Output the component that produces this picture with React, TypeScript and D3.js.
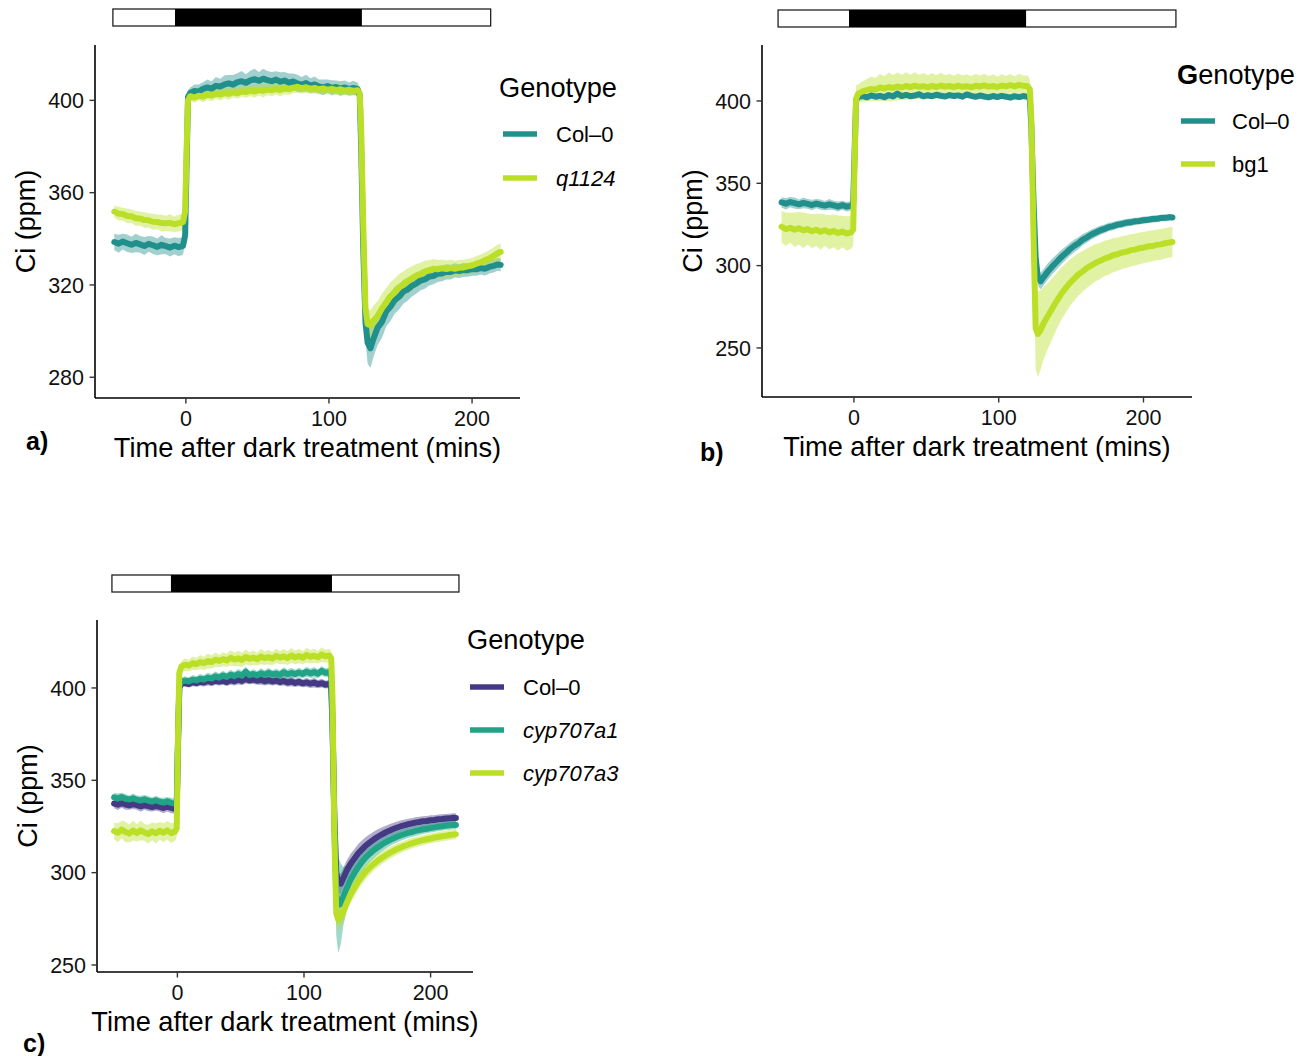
import React from "react";
import * as d3 from "d3";

// ---------- data ----------
const TIME = [
  -50, -47, -44, -41, -38, -35, -32, -29, -26, -23, -20, -17, -14, -11, -8, -5, -2,
  -0.5, 0.5, 1.5,
  3, 6, 9, 12, 15, 18, 21, 24, 27, 30,
  33, 36, 39, 42, 45, 48, 51, 54, 57, 60,
  63, 66, 69, 72, 75, 78, 81, 84, 87, 90,
  93, 96, 99, 102, 105, 108, 111, 114, 117, 120,
  121.5, 122.5, 124, 125.5, 127, 129, 131,
  134, 137, 140, 143, 146, 149, 152, 155, 158, 161,
  164, 167, 170, 173, 176, 179, 182, 185, 188, 191,
  194, 197, 200, 203, 206, 209, 212, 215, 218, 220,
];

const X_TICKS = [0, 100, 200];
const Y_TICKS_A = [280, 320, 360, 400];
const Y_TICKS_B = [250, 300, 350, 400];
const Y_TICKS_C = [250, 300, 350, 400];

// light/dark bars: [start, darkStart, darkEnd, end] (mins)
const BAR_A = [-51, -7.6, 123, 213];
const BAR_B = [-52.4, -3.4, 118.9, 222.4];
const BAR_C = [-51.7, -5.1, 122.1, 222.4];

const GENO_A = ["Col\u20130", "q1124"];
const GENO_B = ["Col\u20130", "bg1"];
const GENO_C = ["Col\u20130", "cyp707a1", "cyp707a3"];

// panel a
const A_COL = [
  338.6, 337.9, 338.8, 338.1, 337.4, 338.2, 337.6, 336.9, 337.8, 337.2, 336.5, 337.4, 336.8, 336.2, 337.0, 336.4, 336.9,
  341.5, 372, 401.5,
  403.2, 404.1, 403.8, 405.0, 405.6, 405.1, 406.3, 406.0, 406.9, 407.4,
  406.8, 407.9, 408.3, 407.6, 408.7, 409.2, 408.5, 409.4, 408.8, 408.3,
  409.0, 408.1, 408.6, 407.7, 408.2, 407.3, 406.8, 407.5, 406.4, 406.9,
  406.0, 405.6, 406.2, 405.4, 405.8, 405.1, 405.6, 404.9, 405.4, 405.0,
  402, 380, 335, 304, 295, 292.5, 296.5,
  301.5, 304.0, 308.5, 310.6, 313.4, 314.9, 317.1, 318.0, 319.6, 320.6,
  321.9, 322.4, 323.6, 323.9, 324.8, 325.0, 325.7, 325.6, 326.3, 326.0,
  326.5, 326.4, 326.9, 326.8, 327.3, 327.0, 327.8, 328.3, 328.9, 328.7,
];
const A_COL_SE = [
  3.6, 3.9, 3.4, 3.8, 3.5, 4.0, 3.6, 3.9, 3.4, 3.8, 3.6, 4.1, 3.5, 3.9, 3.7, 4.0, 3.8,
  3.5, 3.5, 3.0,
  2.4, 2.8, 3.1, 2.9, 3.5, 3.2, 3.8, 3.4, 4.0, 3.6,
  4.2, 3.9, 4.4, 3.7, 4.1, 4.5, 3.8, 4.3, 3.9, 4.0,
  3.6, 4.1, 3.7, 3.9, 3.4, 3.8, 3.3, 3.6, 3.2, 3.5,
  3.0, 3.4, 2.9, 3.3, 2.8, 3.2, 3.0, 2.9, 3.1, 2.8,
  3, 4, 6, 8, 9, 8.5, 8,
  7.5, 7, 6.5, 6.2, 5.8, 5.5, 5.2, 4.9, 4.6, 4.4,
  4.2, 4.0, 3.8, 3.6, 3.5, 3.4, 3.3, 3.2, 3.1, 3.0,
  3.0, 2.9, 2.9, 2.8, 2.8, 2.9, 2.8, 2.9, 2.8, 2.8,
];
const A_Q = [
  351.8, 350.9, 350.7, 349.9, 349.8, 348.9, 348.8, 348.1, 348.0, 347.4, 347.3, 346.8, 346.7, 346.9, 346.3, 346.8, 347.2,
  352, 378, 400.0,
  401.8, 401.2, 402.0, 401.6, 402.4, 402.1, 402.9, 402.5, 403.2, 402.8,
  403.5, 403.1, 403.9, 403.6, 404.2, 403.8, 404.5, 404.1, 404.7, 404.4,
  404.9, 404.5, 405.1, 404.8, 405.4, 405.9, 405.3, 405.7, 405.0, 405.4,
  404.8, 405.2, 404.6, 405.0, 404.4, 404.8, 404.2, 404.6, 404.1, 404.4,
  403, 388, 345, 310, 303, 302.5, 304.5,
  306.5, 309.8, 312.4, 315.1, 316.8, 318.9, 320.2, 321.8, 322.9, 324.1,
  324.8, 325.9, 326.4, 327.0, 326.8, 327.2, 326.9, 327.3, 327.0, 327.4,
  327.6, 328.1, 328.4, 329.2, 329.8, 330.7, 331.5, 332.6, 333.8, 334.3,
];
const A_Q_SE = [
  2.6, 3.0, 2.8, 3.2, 2.9, 3.3, 3.0, 3.4, 3.1, 3.5, 3.2, 3.6, 3.3, 3.7, 3.4, 3.6, 3.5,
  3, 3, 2.5,
  1.8, 2.2, 2.0, 2.4, 2.1, 2.5, 2.2, 2.6, 2.3, 2.5,
  2.1, 2.4, 2.2, 2.6, 2.3, 2.7, 2.4, 2.8, 2.5, 2.6,
  2.3, 2.7, 2.4, 2.5, 2.2, 2.6, 2.3, 2.5, 2.1, 2.4,
  2.2, 2.5, 2.0, 2.3, 2.1, 2.4, 2.0, 2.2, 2.1, 2.3,
  2.5, 3.5, 5, 6, 6.5, 6.5, 6.5,
  6.5, 6.4, 6.3, 6.2, 6.0, 5.8, 5.6, 5.4, 5.2, 5.0,
  4.8, 4.6, 4.4, 4.2, 4.0, 3.8, 3.7, 3.6, 3.5, 3.4,
  3.3, 3.3, 3.3, 3.3, 3.4, 3.4, 3.5, 3.6, 3.7, 3.7,
];

// panel b
const B_COL = [
  338.4, 337.6, 338.6, 337.9, 337.2, 338.1, 337.5, 336.8, 337.7, 337.0, 336.4, 337.2, 336.6, 335.9, 336.7, 335.8, 336.3,
  338, 370, 400.5,
  402.4, 403.0, 402.2, 403.4, 402.6, 403.1, 402.3, 403.6, 402.8, 404.5,
  403.0, 403.7, 402.9, 403.3, 404.1, 402.8, 403.5, 402.9, 403.8, 403.2,
  402.7, 403.6, 403.0, 403.4, 402.6, 404.0, 403.1, 402.5, 403.3, 402.7,
  402.2, 403.0, 402.4, 403.1, 402.6, 402.0, 402.9, 402.3, 403.0, 402.5,
  401, 385, 340, 305, 293, 290.5, 293,
  296.5, 299.5, 302.2, 305.0, 307.3, 309.8, 311.9, 313.6, 315.8, 317.2,
  318.9, 320.1, 321.4, 322.3, 323.4, 324.0, 324.9, 325.3, 326.0, 326.3,
  326.9, 327.1, 327.6, 327.8, 328.3, 328.4, 328.9, 329.0, 329.4, 329.3,
];
const B_COL_SE = [
  3.2, 3.5, 3.1, 3.4, 3.0, 3.3, 2.9, 3.2, 2.8, 3.1, 2.9, 3.2, 2.8, 3.0, 2.7, 2.9, 2.8,
  2.8, 2.5, 2,
  1.2, 1.5, 1.3, 1.6, 1.4, 1.7, 1.3, 1.6, 1.4, 1.8,
  1.5, 1.6, 1.3, 1.5, 1.7, 1.4, 1.6, 1.3, 1.5, 1.4,
  1.6, 1.3, 1.5, 1.4, 1.7, 1.5, 1.3, 1.6, 1.4, 1.5,
  1.3, 1.6, 1.4, 1.5, 1.3, 1.5, 1.4, 1.6, 1.3, 1.5,
  2, 3, 4, 4.5, 5, 5, 5,
  5, 4.8, 4.6, 4.4, 4.2, 4.0, 3.8, 3.6, 3.4, 3.2,
  3.0, 2.9, 2.8, 2.7, 2.6, 2.5, 2.4, 2.4, 2.3, 2.3,
  2.2, 2.2, 2.2, 2.1, 2.1, 2.1, 2.0, 2.0, 2.0, 2.0,
];
const B_BG = [
  323.6, 322.1, 323.0, 321.8, 322.7, 321.4, 322.2, 320.9, 321.8, 320.6, 321.5, 320.2, 321.1, 319.8, 320.7, 319.5, 320.2,
  322, 365, 401.5,
  404.5, 405.8, 406.6, 407.3, 407.0, 408.2, 407.6, 408.5, 407.9, 408.8,
  408.2, 409.1, 408.4, 409.3, 408.6, 409.0, 408.3, 409.2, 408.5, 409.4,
  408.7, 409.1, 408.4, 409.3, 408.6, 409.0, 408.3, 409.2, 408.8, 409.5,
  408.7, 409.1, 408.5, 409.4, 408.9, 409.6, 408.8, 409.8, 409.2, 409.0,
  407, 390, 320, 262, 258.5, 261, 265,
  269.5, 274.0, 278.5, 282.6, 286.1, 289.4, 292.0, 294.6, 296.5, 298.6,
  300.1, 301.8, 302.9, 304.3, 305.1, 306.3, 306.9, 307.9, 308.4, 309.3,
  309.7, 310.5, 310.9, 311.6, 311.9, 312.6, 312.9, 313.6, 314.1, 314.3,
];
const B_BG_SE = [
  9.5, 10.2, 9.1, 10.5, 9.8, 10.8, 9.4, 10.3, 9.7, 10.9, 9.5, 10.4, 9.9, 10.7, 9.6, 10.5, 10.0,
  10, 9, 8,
  5.5, 6.2, 6.8, 7.5, 7.0, 8.2, 7.6, 8.8, 7.9, 8.5,
  7.8, 8.3, 7.6, 8.1, 7.4, 8.0, 7.3, 7.8, 7.1, 7.7,
  7.0, 7.5, 6.9, 7.4, 6.8, 7.3, 6.7, 7.2, 6.6, 7.1,
  6.5, 7.0, 6.4, 6.9, 6.3, 6.8, 6.2, 6.7, 6.2, 6.4,
  6, 10, 18, 25, 26, 24, 22,
  20, 18.5, 17, 16, 15, 14.2, 13.5, 12.9, 12.4, 12.0,
  11.6, 11.3, 11.0, 10.8, 10.6, 10.4, 10.2, 10.0, 9.9, 9.8,
  9.7, 9.6, 9.5, 9.5, 9.4, 9.4, 9.3, 9.3, 9.2, 9.2,
];

// panel c
const C_COL = [
  337.4, 336.8, 337.6, 336.9, 336.4, 337.1, 336.5, 335.9, 336.6, 336.0, 335.5, 336.2, 335.6, 335.0, 335.7, 335.1, 334.6,
  336, 370, 400.0,
  402.3, 402.8, 402.1, 403.2, 402.6, 403.5, 402.9, 403.8, 403.1, 404.0,
  403.4, 403.9, 403.2, 404.3, 403.6, 404.5, 403.8, 404.9, 404.1, 404.6,
  403.9, 404.4, 403.6, 404.2, 403.5, 404.0, 403.2, 403.8, 402.9, 403.5,
  402.7, 403.3, 402.5, 403.0, 402.3, 402.9, 402.1, 402.6, 401.8, 402.2,
  400, 380, 330, 300, 294.5, 294, 297,
  301.5, 305.0, 307.8, 310.6, 312.7, 314.8, 316.4, 317.9, 319.3, 320.5,
  321.6, 322.6, 323.5, 324.3, 325.0, 325.6, 326.2, 326.6, 327.1, 327.4,
  327.8, 328.0, 328.4, 328.5, 328.9, 329.0, 329.3, 329.4, 329.7, 329.6,
];
const C_COL_SE = [
  2.6, 2.9, 2.5, 2.8, 2.4, 2.7, 2.5, 2.9, 2.6, 2.8, 2.4, 2.7, 2.5, 2.8, 2.6, 2.9, 2.7,
  2.5, 2.5, 2,
  1.8, 2.1, 1.9, 2.3, 2.0, 2.4, 2.1, 2.5, 2.2, 2.4,
  2.0, 2.3, 2.1, 2.5, 2.2, 2.6, 2.3, 2.5, 2.1, 2.4,
  2.2, 2.6, 2.3, 2.5, 2.1, 2.4, 2.2, 2.5, 2.3, 2.6,
  2.2, 2.4, 2.1, 2.5, 2.3, 2.6, 2.2, 2.4, 2.1, 2.3,
  2.5, 3, 4, 5, 5.5, 5.5, 5.5,
  5.5, 5.4, 5.2, 5.0, 4.8, 4.6, 4.4, 4.2, 4.0, 3.8,
  3.6, 3.5, 3.4, 3.3, 3.2, 3.1, 3.0, 2.9, 2.9, 2.8,
  2.8, 2.7, 2.7, 2.6, 2.6, 2.6, 2.5, 2.5, 2.5, 2.5,
];
const C_A1 = [
  340.8, 340.2, 340.9, 340.0, 339.6, 340.3, 339.5, 339.0, 339.7, 338.9, 338.5, 339.2, 338.4, 337.9, 338.6, 337.8, 337.4,
  338, 372, 401,
  403.4, 404.0, 403.6, 404.5, 404.1, 405.0, 404.6, 405.6, 405.1, 406.3,
  405.6, 406.8, 405.9, 407.2, 406.4, 407.5, 406.7, 408.8, 406.9, 407.6,
  406.8, 407.9, 407.1, 408.2, 407.3, 407.8, 407.0, 408.5, 407.4, 408.1,
  407.5, 408.4, 407.6, 408.8, 407.9, 408.6, 407.7, 409.3, 408.2, 408.6,
  406, 385, 325, 288, 282.5, 283, 287,
  292.0, 296.5, 300.0, 303.2, 306.0, 308.4, 310.3, 312.1, 313.6, 315.0,
  316.3, 317.4, 318.4, 319.3, 320.1, 320.8, 321.5, 322.0, 322.6, 323.0,
  323.5, 323.8, 324.2, 324.5, 324.9, 325.1, 325.5, 325.6, 325.9, 325.8,
];
const C_A1_SE = [
  2.4, 2.7, 2.3, 2.6, 2.2, 2.5, 2.3, 2.7, 2.4, 2.6, 2.2, 2.5, 2.3, 2.6, 2.4, 2.7, 2.5,
  2.5, 2.5, 2,
  2.0, 2.3, 2.1, 2.5, 2.2, 2.6, 2.3, 2.7, 2.4, 2.6,
  2.2, 2.5, 2.3, 2.7, 2.4, 2.8, 2.5, 2.7, 2.3, 2.6,
  2.4, 2.8, 2.5, 2.7, 2.3, 2.6, 2.4, 2.7, 2.5, 2.8,
  2.4, 2.6, 2.3, 2.7, 2.5, 2.8, 2.4, 2.6, 2.3, 2.5,
  3, 6, 12, 22, 26, 22, 16,
  12, 9, 7.5, 6.5, 5.8, 5.2, 4.8, 4.4, 4.1, 3.8,
  3.6, 3.4, 3.2, 3.1, 3.0, 2.9, 2.8, 2.7, 2.7, 2.6,
  2.6, 2.5, 2.5, 2.5, 2.4, 2.4, 2.4, 2.4, 2.4, 2.4,
];
const C_A3 = [
  322.5, 321.6, 323.4, 322.0, 321.2, 322.8, 321.5, 322.9, 321.8, 320.9, 322.4, 321.3, 322.7, 321.6, 322.9, 321.4, 322.2,
  324, 375, 408,
  411.5, 412.6, 412.1, 413.4, 412.9, 414.0, 413.4, 414.6, 414.0, 415.3,
  414.6, 415.6, 414.9, 416.3, 415.4, 416.0, 415.2, 416.8, 415.8, 416.4,
  415.6, 417.0, 416.1, 416.7, 415.9, 417.4, 416.4, 417.1, 416.2, 417.6,
  416.5, 417.3, 416.4, 417.8, 416.9, 417.5, 416.6, 418.1, 417.2, 417.6,
  416, 395, 320, 278, 274.5, 276, 279,
  284.0, 288.5, 292.0, 295.4, 298.1, 300.7, 302.7, 304.6, 306.3, 307.8,
  309.1, 310.4, 311.5, 312.6, 313.5, 314.4, 315.1, 315.9, 316.5, 317.1,
  317.6, 318.1, 318.5, 319.0, 319.3, 319.7, 320.0, 320.4, 320.6, 320.8,
];
const C_A3_SE = [
  4.5, 5.2, 4.8, 5.6, 4.9, 5.4, 4.7, 5.3, 4.6, 5.1, 4.8, 5.5, 4.7, 5.2, 4.9, 5.4, 5.0,
  5, 5, 4,
  3.0, 3.4, 3.2, 3.7, 3.3, 3.8, 3.5, 4.0, 3.6, 3.9,
  3.4, 3.8, 3.6, 4.1, 3.7, 4.2, 3.8, 4.0, 3.6, 3.9,
  3.5, 4.1, 3.7, 4.0, 3.6, 3.9, 3.5, 4.0, 3.7, 4.1,
  3.6, 3.9, 3.5, 4.0, 3.6, 3.8, 3.4, 3.9, 3.5, 3.7,
  4, 5, 6, 6, 6, 5.5, 5.5,
  5, 4.8, 4.6, 4.4, 4.2, 4.0, 3.8, 3.6, 3.5, 3.4,
  3.3, 3.2, 3.1, 3.0, 3.0, 2.9, 2.9, 2.8, 2.8, 2.8,
  2.7, 2.7, 2.7, 2.7, 2.7, 2.7, 2.7, 2.7, 2.7, 2.7,
];

// ---------- styling ----------
const TEAL = "#21908C";
const LIME = "#BBDF27";
const PURPLE = "#443A83";
const GREEN = "#20A386";
const FONT = "'Liberation Sans', Arial, Helvetica, sans-serif";
const X_DOMAIN = [-63.5, 233.5];

type Series = { name: string; italic: boolean; color: string; v: number[]; se: number[] };

const panels = [
  {
    key: "a",
    left: 95, right: 520, top: 45, bottom: 398,
    yDomain: [271, 424], yTicks: Y_TICKS_A,
    bar: BAR_A, barY: 9,
    legend: { x: 499, titleY: 97, keyY: 134, step: 44, labelX: 556, keyX: 503, boldG: false },
    tag: { text: "a)", x: 26, y: 450 },
    series: [
      { name: GENO_A[0], italic: false, color: TEAL, v: A_COL, se: A_COL_SE },
      { name: GENO_A[1], italic: true, color: LIME, v: A_Q, se: A_Q_SE },
    ] as Series[],
  },
  {
    key: "b",
    left: 762, right: 1192, top: 45, bottom: 397,
    yDomain: [220.2, 434], yTicks: Y_TICKS_B,
    bar: BAR_B, barY: 10,
    legend: { x: 1177, titleY: 84, keyY: 121, step: 43, labelX: 1232, keyX: 1181, boldG: true },
    tag: { text: "b)", x: 700, y: 461 },
    series: [
      { name: GENO_B[0], italic: false, color: TEAL, v: B_COL, se: B_COL_SE },
      { name: GENO_B[1], italic: false, color: LIME, v: B_BG, se: B_BG_SE },
    ] as Series[],
  },
  {
    key: "c",
    left: 97, right: 473, top: 620, bottom: 972,
    yDomain: [246.2, 436.8], yTicks: Y_TICKS_C,
    bar: BAR_C, barY: 575,
    legend: { x: 467, titleY: 649, keyY: 687, step: 43, labelX: 523, keyX: 470, boldG: false },
    tag: { text: "c)", x: 23, y: 1052 },
    series: [
      { name: GENO_C[0], italic: false, color: PURPLE, v: C_COL, se: C_COL_SE },
      { name: GENO_C[1], italic: true, color: GREEN, v: C_A1, se: C_A1_SE },
      { name: GENO_C[2], italic: true, color: LIME, v: C_A3, se: C_A3_SE },
    ] as Series[],
  },
];

function Panel({ p }: { p: (typeof panels)[number] }) {
  const x = d3.scaleLinear().domain(X_DOMAIN).range([p.left, p.right]);
  const y = d3.scaleLinear().domain(p.yDomain).range([p.bottom, p.top]);
  const area = (s: Series) =>
    d3
      .area<number>()
      .x((_, i) => x(TIME[i]))
      .y0((d, i) => y(d - s.se[i]))
      .y1((d, i) => y(d + s.se[i]))(s.v.slice(0, TIME.length)) || "";
  const line = (s: Series) =>
    d3
      .line<number>()
      .x((_, i) => x(TIME[i]))
      .y((d) => y(d))(s.v.slice(0, TIME.length)) || "";
  const [b0, d0, d1, b1] = p.bar;
  const barH = 17;
  const cx = (p.left + p.right) / 2;
  const cy = (p.top + p.bottom) / 2;
  return (
    <g>
      {/* light / dark bar */}
      <rect x={x(b0)} y={p.barY} width={x(b1) - x(b0)} height={barH} fill="#fff" stroke="#222" strokeWidth={1.3} />
      <rect x={x(d0)} y={p.barY} width={x(d1) - x(d0)} height={barH} fill="#000" />
      <clipPath id={"clip-" + p.key}>
        <rect x={p.left} y={p.top} width={p.right - p.left} height={p.bottom - p.top} />
      </clipPath>
      <g clipPath={`url(#clip-${p.key})`}>
        {p.series.map((s) => (
          <path key={"r" + s.name} d={area(s)} fill={s.color} fillOpacity={0.42} stroke="none" />
        ))}
        {p.series.map((s) => (
          <path
            key={"l" + s.name}
            d={line(s)}
            fill="none"
            stroke={s.color}
            strokeWidth={6}
            strokeLinejoin="round"
            strokeLinecap="round"
          />
        ))}
      </g>
      {/* axes */}
      <line x1={p.left} x2={p.left} y1={p.top} y2={p.bottom} stroke="#000" strokeWidth={1.6} />
      <line x1={p.left} x2={p.right} y1={p.bottom} y2={p.bottom} stroke="#000" strokeWidth={1.6} />
      {p.yTicks.map((t) => (
        <g key={"yt" + t}>
          <line x1={p.left - 5.5} x2={p.left} y1={y(t)} y2={y(t)} stroke="#333" strokeWidth={1.4} />
          <text x={p.left - 11} y={y(t)} dy="0.36em" textAnchor="end" fontSize={21.5} fill="#111" fontFamily={FONT}>
            {t}
          </text>
        </g>
      ))}
      {X_TICKS.map((t) => (
        <g key={"xt" + t}>
          <line x1={x(t)} x2={x(t)} y1={p.bottom} y2={p.bottom + 5.5} stroke="#333" strokeWidth={1.4} />
          <text x={x(t)} y={p.bottom + 28} textAnchor="middle" fontSize={21.5} fill="#111" fontFamily={FONT}>
            {t}
          </text>
        </g>
      ))}
      <text x={cx} y={p.bottom + 59} textAnchor="middle" fontSize={27.2} fill="#000" fontFamily={FONT}>
        Time after dark treatment (mins)
      </text>
      <text
        transform={`translate(${p.left - 60},${cy}) rotate(-90)`}
        textAnchor="middle"
        fontSize={27}
        fill="#000"
        fontFamily={FONT}
      >
        Ci (ppm)
      </text>
      <text x={p.tag.x} y={p.tag.y} fontSize={25} fontWeight="bold" fill="#000" fontFamily={FONT}>
        {p.tag.text}
      </text>
      {/* legend */}
      <text x={p.legend.x} y={p.legend.titleY} fontSize={27.2} fill="#000" fontFamily={FONT}>
        {p.legend.boldG ? (
          <>
            <tspan fontWeight="bold">G</tspan>enotype
          </>
        ) : (
          "Genotype"
        )}
      </text>
      {p.series.map((s, i) => {
        const ky = p.legend.keyY + i * p.legend.step;
        return (
          <g key={"lg" + s.name}>
            <line x1={p.legend.keyX} x2={p.legend.keyX + 34} y1={ky} y2={ky} stroke={s.color} strokeWidth={5.5} />
            <text
              x={p.legend.labelX}
              y={ky}
              dy="0.36em"
              fontSize={22}
              fontStyle={s.italic ? "italic" : "normal"}
              fill="#000"
              fontFamily={FONT}
            >
              {s.name}
            </text>
          </g>
        );
      })}
    </g>
  );
}

export default function App() {
  return (
    <svg
      width={1309}
      height={1056}
      viewBox="0 0 1309 1056"
      style={{ position: "absolute", left: 0, top: 0, background: "#fff", display: "block" }}
    >
      <rect x={0} y={0} width={1309} height={1056} fill="#fff" />
      {panels.map((p) => (
        <Panel key={p.key} p={p} />
      ))}
    </svg>
  );
}
